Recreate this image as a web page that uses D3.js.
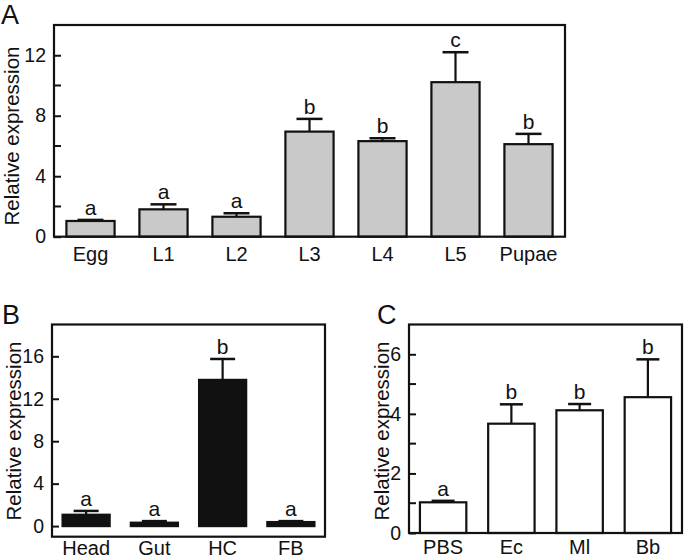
<!DOCTYPE html>
<html>
<head>
<meta charset="utf-8">
<script src="https://cdn.jsdelivr.net/npm/d3@7"></script>
<style>
  body { margin: 0; background: #fff; }
  text { font-family: "Liberation Sans", Arial, sans-serif; fill: #111; }
</style>
</head>
<body>
<div id="plot"></div>
<script>
// Panel A - developmental stages
const stageNames = ['Egg', 'L1', 'L2', 'L3', 'L4', 'L5', 'Pupae'];
const stageMeans = [1.04, 1.81, 1.32, 6.95, 6.32, 10.22, 6.12];
const stageSE = [0.07, 0.33, 0.23, 0.84, 0.19, 1.98, 0.68];
const stageLetters = ['a', 'a', 'a', 'b', 'b', 'c', 'b'];
const stageTicks = [0, 4, 8, 12];
const stageMinor = [2, 6, 10];

// Panel B - tissues
const tissueNames = ['Head', 'Gut', 'HC', 'FB'];
const tissueMeans = [1.07, 0.32, 13.78, 0.38];
const tissueSE = [0.36, 0.15, 1.97, 0.09];
const tissueLetters = ['a', 'a', 'b', 'a'];
const tissueTicks = [0, 4, 8, 12, 16];

// Panel C - immune challenge
const challengeNames = ['PBS', 'Ec', 'Ml', 'Bb'];
const challengeMeans = [1.03, 3.67, 4.12, 4.56];
const challengeSE = [0.05, 0.65, 0.21, 1.27];
const challengeLetters = ['a', 'b', 'b', 'b'];
const challengeTicks = [0, 2, 4, 6];
const challengeMinor = [1, 3, 5];

const svg = d3.select('#plot')
  .append('svg')
  .attr('width', 685)
  .attr('height', 559);

function drawPanel(p) {
  const g = svg.append('g');
  const x = d3.scaleBand()
    .domain(p.names)
    .range([p.left, p.right])
    .paddingInner(p.pad)
    .paddingOuter(p.pad / 2);
  const y = d3.scaleLinear().domain(p.domain).range([p.bottom, p.top]);

  const rows = p.names.map((n, i) => ({ name: n, mean: p.means[i], se: p.se[i], letter: p.letters[i] }));

  // y ticks (inward)
  const yAxis = g.append('g')
    .attr('transform', `translate(${p.left},0)`)
    .call(d3.axisLeft(y).tickValues(p.ticks).tickSizeInner(-7).tickSizeOuter(0).tickPadding(8).tickFormat(d3.format('d')));
  yAxis.select('.domain').remove();
  yAxis.selectAll('line').attr('stroke', '#111').attr('stroke-width', 2);
  yAxis.selectAll('text')
    .style('font-size', '19.5px')
    .style('font-family', '"Liberation Sans Narrow", "Liberation Sans", Arial, sans-serif')
    .attr('fill', '#111');

  if (p.minor) {
    g.selectAll('.minor')
      .data(p.minor)
      .enter()
      .append('line')
      .attr('x1', p.left)
      .attr('x2', p.left + 7)
      .attr('y1', (d) => y(d))
      .attr('y2', (d) => y(d))
      .attr('stroke', '#111')
      .attr('stroke-width', 2);
  }

  // bars
  g.selectAll('.bar')
    .data(rows)
    .enter()
    .append('rect')
    .attr('x', (d) => x(d.name))
    .attr('y', (d) => y(d.mean))
    .attr('width', x.bandwidth())
    .attr('height', (d) => y(0) - y(d.mean))
    .attr('fill', p.fill)
    .attr('stroke', '#111')
    .attr('stroke-width', 2.2);

  // error bars (upper only)
  const cx = (d) => x(d.name) + x.bandwidth() / 2;
  g.selectAll('.err')
    .data(rows)
    .enter()
    .append('line')
    .attr('x1', cx)
    .attr('x2', cx)
    .attr('y1', (d) => y(d.mean))
    .attr('y2', (d) => y(d.mean + d.se))
    .attr('stroke', '#111')
    .attr('stroke-width', 2.2);
  g.selectAll('.cap')
    .data(rows)
    .enter()
    .append('line')
    .attr('x1', (d) => cx(d) - p.cap / 2)
    .attr('x2', (d) => cx(d) + p.cap / 2)
    .attr('y1', (d) => y(d.mean + d.se))
    .attr('y2', (d) => y(d.mean + d.se))
    .attr('stroke', '#111')
    .attr('stroke-width', 2.5);

  // significance letters
  g.selectAll('.letter')
    .data(rows)
    .enter()
    .append('text')
    .attr('x', cx)
    .attr('y', (d) => y(d.mean + d.se) - 5)
    .attr('text-anchor', 'middle')
    .style('font-size', '21px')
    .text((d) => d.letter);

  // frame
  g.append('rect')
    .attr('x', p.left)
    .attr('y', p.top)
    .attr('width', p.right - p.left)
    .attr('height', p.bottom - p.top)
    .attr('fill', 'none')
    .attr('stroke', '#111')
    .attr('stroke-width', 2.2);

  // category labels
  g.selectAll('.cat')
    .data(rows)
    .enter()
    .append('text')
    .attr('x', cx)
    .attr('y', p.labelY)
    .attr('text-anchor', 'middle')
    .style('font-size', '20px')
    .text((d) => d.name);

  // y title
  g.append('text')
    .attr('transform', `translate(${p.titleX},${p.titleY}) rotate(-90)`)
    .attr('text-anchor', 'middle')
    .style('font-size', '20.5px')
    .text('Relative expression');

  // panel letter
  g.append('text')
    .attr('x', p.tagX)
    .attr('y', p.tagY)
    .style('font-size', '27px')
    .text(p.tag);
}

drawPanel({
  tag: 'A', tagX: 1, tagY: 24,
  names: stageNames, means: stageMeans, se: stageSE, letters: stageLetters,
  ticks: stageTicks, minor: stageMinor, domain: [0, 14],
  left: 54, right: 565, top: 25, bottom: 236.7, pad: 0.34, cap: 26,
  fill: '#c9c9c9', labelY: 261, titleX: 19, titleY: 136
});

drawPanel({
  tag: 'B', tagX: 2, tagY: 324,
  names: tissueNames, means: tissueMeans, se: tissueSE, letters: tissueLetters,
  ticks: tissueTicks, minor: null, domain: [-1.0, 19],
  left: 52, right: 325, top: 324.5, bottom: 536.7, pad: 0.31, cap: 25,
  fill: '#111', labelY: 555, titleX: 21, titleY: 431
});

drawPanel({
  tag: 'C', tagX: 377, tagY: 324,
  names: challengeNames, means: challengeMeans, se: challengeSE, letters: challengeLetters,
  ticks: challengeTicks, minor: challengeMinor, domain: [0, 7],
  left: 409, right: 682, top: 324.5, bottom: 533, pad: 0.32, cap: 23,
  fill: '#fff', labelY: 554, titleX: 389, titleY: 431
});
</script>
</body>
</html>
